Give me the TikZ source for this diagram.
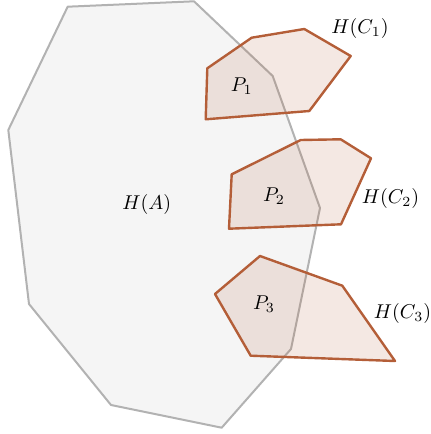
\documentclass[tikz,border=0pt]{standalone}
\definecolor{hullgray}{RGB}{178,178,178}
\definecolor{hullfill}{RGB}{245,245,245}
\definecolor{rust}{RGB}{180,94,56}
\begin{document}
\begin{tikzpicture}[x=0.5pt,y=-0.5pt,
  hullA/.style={draw=hullgray,fill=hullfill,line width=1pt,line join=round},
  hullC/.style={draw=rust,fill=rust,fill opacity=0.14,line width=1.2pt,line join=round},
  lbl/.style={inner sep=0pt}]
\useasboundingbox (0,0) rectangle (431,434);
\draw[hullA] (67.7,6.7) -- (194,1.3) -- (272.7,76) -- (320,208) -- (291,349) -- (221.7,427.7) -- (111,405) -- (29,304) -- (8.3,130) -- cycle;
\draw[hullC] (207.3,68.3) -- (251.7,37.7) -- (304.3,29) -- (350.7,56) -- (309.3,111) -- (205.7,119.3) -- cycle;
\draw[hullC] (231.7,174.3) -- (300.7,140) -- (340.7,139.3) -- (371,158.3) -- (341,224.3) -- (229,228.7) -- cycle;
\draw[hullC] (215,294) -- (260,256) -- (342.3,285.7) -- (395,361) -- (250.7,355.7) -- cycle;
\node[lbl] (hA) at (146.7,204.3) {$H(A)$};
\node[lbl] (p1) at (241.7,86.5) {$P_1$};
\node[lbl] (p2) at (274,196.5) {$P_2$};
\node[lbl] (p3) at (264,304) {$P_3$};
\node[lbl] (hc1) at (360,28.3) {$H(C_1)$};
\node[lbl] (hc2) at (390.5,198) {$H(C_2)$};
\node[lbl] (hc3) at (402.5,313.5) {$H(C_3)$};
\end{tikzpicture}
\end{document}
